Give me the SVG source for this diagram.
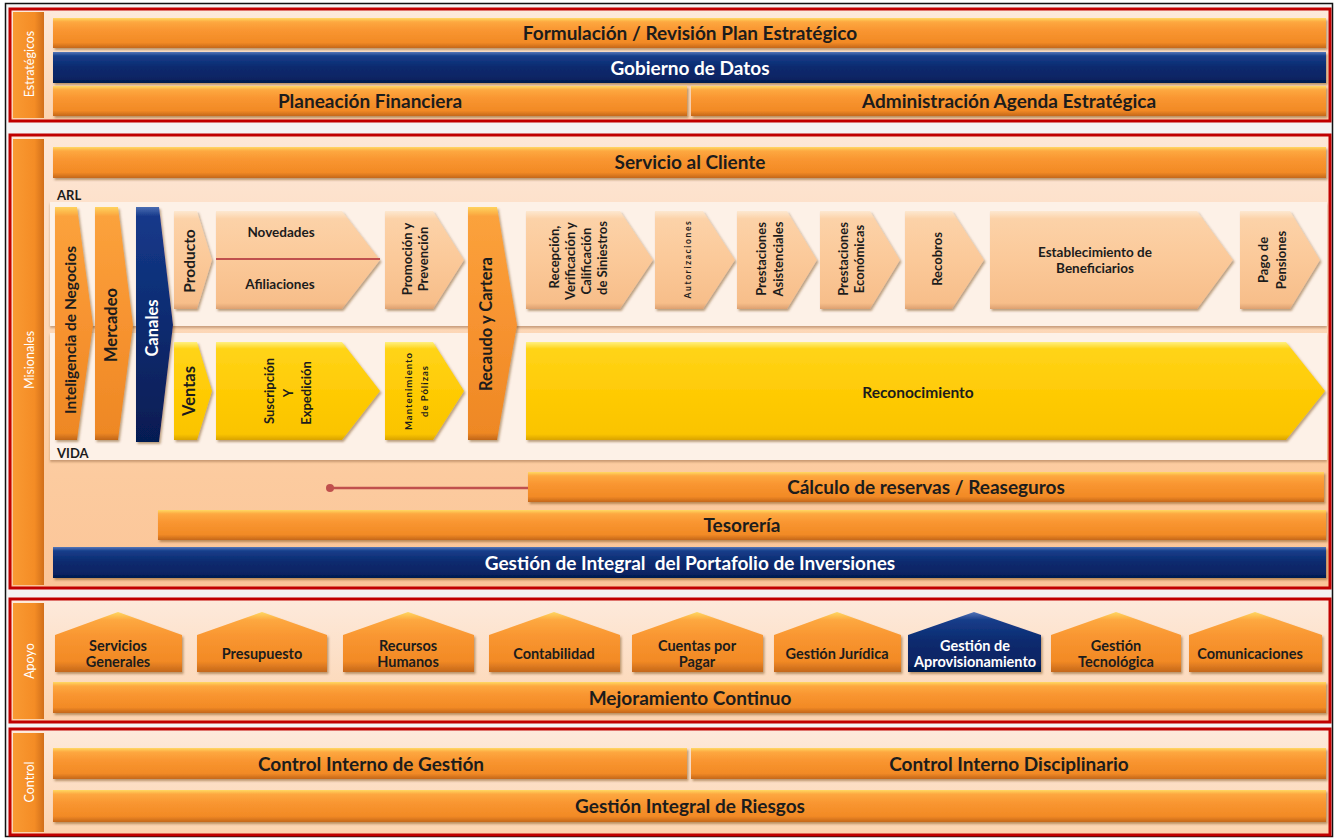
<svg xmlns="http://www.w3.org/2000/svg" width="1337" height="839" viewBox="0 0 1337 839">
<defs>
  <linearGradient id="gOrange" x1="0" y1="0" x2="0" y2="1">
    <stop offset="0" stop-color="#ffd862"/>
    <stop offset="0.13" stop-color="#fda840"/>
    <stop offset="0.4" stop-color="#f99631"/>
    <stop offset="0.82" stop-color="#f28a25"/>
    <stop offset="1" stop-color="#c4671a"/>
  </linearGradient>
  <linearGradient id="gNavy" x1="0" y1="0" x2="0" y2="1">
    <stop offset="0" stop-color="#5676b8"/>
    <stop offset="0.13" stop-color="#163d8a"/>
    <stop offset="0.5" stop-color="#0b2a6e"/>
    <stop offset="0.85" stop-color="#082463"/>
    <stop offset="1" stop-color="#041a4c"/>
  </linearGradient>
  <linearGradient id="gOrangeTall" x1="0" y1="0" x2="0" y2="1">
    <stop offset="0" stop-color="#ffd35e"/>
    <stop offset="0.04" stop-color="#fba23c"/>
    <stop offset="0.5" stop-color="#f79330"/>
    <stop offset="0.97" stop-color="#ee8824"/>
    <stop offset="1" stop-color="#c06518"/>
  </linearGradient>
  <linearGradient id="gNavyTall" x1="0" y1="0" x2="0" y2="1">
    <stop offset="0" stop-color="#4a6db2"/>
    <stop offset="0.04" stop-color="#15398a"/>
    <stop offset="0.5" stop-color="#0c2b70"/>
    <stop offset="1" stop-color="#061c52"/>
  </linearGradient>
  <linearGradient id="gPeach" x1="0" y1="0" x2="0" y2="1">
    <stop offset="0" stop-color="#fde8d0"/>
    <stop offset="0.08" stop-color="#fcd2a8"/>
    <stop offset="0.5" stop-color="#fbc999"/>
    <stop offset="0.94" stop-color="#f7be8a"/>
    <stop offset="1" stop-color="#dca070"/>
  </linearGradient>
  <linearGradient id="gYellow" x1="0" y1="0" x2="0" y2="1">
    <stop offset="0" stop-color="#fff080"/>
    <stop offset="0.07" stop-color="#ffd418"/>
    <stop offset="0.5" stop-color="#ffcb06"/>
    <stop offset="0.94" stop-color="#fac400"/>
    <stop offset="1" stop-color="#d9a300"/>
  </linearGradient>
  <linearGradient id="gLabel" x1="0" y1="0" x2="1" y2="0">
    <stop offset="0" stop-color="#f99a33"/>
    <stop offset="0.7" stop-color="#f48c25"/>
    <stop offset="1" stop-color="#d16f1a"/>
  </linearGradient>
  <linearGradient id="gSecLight" x1="0" y1="0" x2="0" y2="1">
    <stop offset="0" stop-color="#fdeadc"/>
    <stop offset="1" stop-color="#fcd3ae"/>
  </linearGradient>
  <linearGradient id="gSecMis" x1="0" y1="0" x2="0" y2="1">
    <stop offset="0" stop-color="#fde8d8"/>
    <stop offset="0.15" stop-color="#fde1cb"/>
    <stop offset="0.75" stop-color="#fccb9f"/>
    <stop offset="1" stop-color="#fbc598"/>
  </linearGradient>
  <filter id="sh" x="-10%" y="-20%" width="120%" height="150%">
    <feDropShadow dx="1.5" dy="2" stdDeviation="1.2" flood-color="#6b3a10" flood-opacity="0.45"/>
  </filter>
  <filter id="shPanel" x="-5%" y="-10%" width="110%" height="130%">
    <feDropShadow dx="0" dy="2" stdDeviation="1.2" flood-color="#8a5a30" flood-opacity="0.45"/>
  </filter>
  <style>
    text { font-family: Lato, "Open Sans", "Liberation Sans", sans-serif; font-weight: bold; fill: #1c1c1c; text-anchor: middle; dominant-baseline: central; }
    .bar { fill: url(#gOrange); filter: url(#sh); }
    .navy { fill: url(#gNavy); filter: url(#sh); }
    .tallO { fill: url(#gOrangeTall); filter: url(#sh); }
    .tallN { fill: url(#gNavyTall); filter: url(#sh); }
    .peach { fill: url(#gPeach); filter: url(#sh); }
    .yellow { fill: url(#gYellow); filter: url(#sh); }
    .house { fill: url(#gOrange); filter: url(#sh); }
    .houseN { fill: url(#gNavy); filter: url(#sh); }
    .sec { stroke: #c00000; stroke-width: 3; }
    .lbl { fill: url(#gLabel); }
    .lblT { font-weight: normal; font-size: 12.5px; fill: #ffffff; }
    .big { font-size: 19px; }
    .w { fill: #ffffff; }
    .v16 { font-size: 16.5px; }
    .v15 { font-size: 15.5px; }
    .s15 { font-size: 15.5px; }
    .s13 { font-size: 13.5px; }
    .s12 { font-size: 13px; }
    .tiny { font-size: 9.5px; letter-spacing: 1px; }
    .tiny2 { font-size: 8.5px; letter-spacing: 1.6px; }
    .h { font-size: 14.5px; }
    .tag { font-size: 13px; text-anchor: start; }
    .panel { fill: #fdf1e7; filter: url(#shPanel); }
  </style>
</defs>

<!-- page -->
<rect x="0" y="0" width="1337" height="839" fill="#ffffff"/>
<rect x="5.5" y="3.5" width="1327" height="833" fill="#f4f4f4" stroke="#111111" stroke-width="1.5"/>

<!-- ===== Estratégicos ===== -->
<g id="sec-estrategicos">
  <rect class="sec" x="10" y="9" width="1320" height="112" fill="url(#gSecLight)"/>
  <rect class="lbl" x="13" y="12" width="31" height="106"/>
  <text class="lblT" transform="translate(29,64) rotate(-90)">Estratégicos</text>
</g>
<g id="formulacion">
  <rect class="bar" x="53" y="18" width="1273" height="30"/>
  <text class="big" x="690" y="32">Formulación / Revisión Plan Estratégico</text>
</g>
<g id="gobierno-datos">
  <rect class="navy" x="53" y="52" width="1273" height="31"/>
  <text class="big w" x="690" y="67">Gobierno de Datos</text>
</g>
<g id="planeacion">
  <rect class="bar" x="53" y="86" width="634" height="30"/>
  <text class="big" x="370" y="100">Planeación Financiera</text>
</g>
<g id="agenda">
  <rect class="bar" x="691" y="86" width="635" height="30"/>
  <text class="big" x="1009" y="100">Administración Agenda Estratégica</text>
</g>

<!-- ===== Misionales ===== -->
<g id="sec-misionales">
  <rect class="sec" x="10" y="135" width="1320" height="453" fill="url(#gSecMis)"/>
  <rect class="lbl" x="13" y="139" width="31" height="446"/>
  <text class="lblT" transform="translate(29,360) rotate(-90)">Misionales</text>
</g>
<g id="servicio-cliente">
  <rect class="bar" x="53" y="147" width="1273" height="31"/>
  <text class="big" x="690" y="161">Servicio al Cliente</text>
</g>

<g id="panel-arl">
  <rect class="panel" x="50" y="202" width="1277" height="124"/>
  <text class="tag" x="57" y="195">ARL</text>
</g>
<g id="panel-vida">
  <rect class="panel" x="50" y="333" width="1277" height="127"/>
  <text class="tag" x="57" y="453">VIDA</text>
</g>

<g id="inteligencia">
  <polygon class="tallO" points="55,207 77,207 93,325 77,440 55,440"/>
  <text class="v15" transform="translate(70,330) rotate(-90)">Inteligencia de Negocios</text>
</g>
<g id="mercadeo">
  <polygon class="tallO" points="95,207 118,207 133,325 118,440 95,440"/>
  <text class="v16" transform="translate(111,325) rotate(-90)">Mercadeo</text>
</g>
<g id="canales">
  <polygon class="tallN" points="136,207 159,207 173,325 159,442 136,442"/>
  <text class="v16 w" transform="translate(152,328) rotate(-90)">Canales</text>
</g>

<g id="producto">
  <polygon class="peach" points="174,211 197,211 212,260 197,309 174,309"/>
  <text class="s15" transform="translate(189,261) rotate(-90)">Producto</text>
</g>
<g id="novedades-afiliaciones">
  <polygon class="peach" points="216,211 342,211 380,260 342,309 216,309"/>
  <text class="s13" x="281" y="232">Novedades</text>
  <text class="s13" x="280" y="284">Afiliaciones</text>
</g>
<g id="promocion">
  <polygon class="peach" points="385,211 433,211 464,260 433,309 385,309"/>
  <text class="s12" transform="translate(407,259) rotate(-90)">Promoción y</text>
  <text class="s12" transform="translate(423,259) rotate(-90)">Prevención</text>
</g>

<g id="ventas">
  <polygon class="yellow" points="174,342 197,342 212,391 197,440 174,440"/>
  <text class="v16" transform="translate(189,391) rotate(-90)">Ventas</text>
</g>
<g id="suscripcion">
  <polygon class="yellow" points="216,342 342,342 380,391 342,440 216,440"/>
  <text class="s12" transform="translate(269,391) rotate(-90)">Suscripción</text>
  <text class="s12" transform="translate(288,393) rotate(-90)">Y</text>
  <text class="s12" transform="translate(306,393) rotate(-90)">Expedición</text>
</g>
<g id="mantenimiento">
  <polygon class="yellow" points="385,342 433,342 464,391 433,440 385,440"/>
  <text class="tiny" transform="translate(408,391) rotate(-90)">Mantenimiento</text>
  <text class="tiny" transform="translate(424,391) rotate(-90)">de Pólizas</text>
</g>

<g id="recaudo">
  <polygon class="tallO" points="468,207 497,207 517,325 497,440 468,440"/>
  <text class="v16" transform="translate(486,324) rotate(-90)">Recaudo y Cartera</text>
</g>

<g id="recepcion">
  <polygon class="peach" points="526,211 620,211 653,260 620,309 526,309"/>
  <text class="s12" transform="translate(554,257) rotate(-90)">Recepción,</text>
  <text class="s12" transform="translate(570,261) rotate(-90)">Verificación y</text>
  <text class="s12" transform="translate(586,261) rotate(-90)">Calificación</text>
  <text class="s12" transform="translate(602,258) rotate(-90)">de Siniestros</text>
</g>
<g id="autorizaciones">
  <polygon class="peach" points="655,211 703,211 735,260 703,309 655,309"/>
  <text class="tiny2" transform="translate(688,259) rotate(-90)">Autorizaciones</text>
</g>
<g id="asistenciales">
  <polygon class="peach" points="737,211 787,211 817,260 787,309 737,309"/>
  <text class="s12" transform="translate(761,259) rotate(-90)">Prestaciones</text>
  <text class="s12" transform="translate(778,259) rotate(-90)">Asistenciales</text>
</g>
<g id="economicas">
  <polygon class="peach" points="820,211 870,211 900,260 870,309 820,309"/>
  <text class="s12" transform="translate(843,259) rotate(-90)">Prestaciones</text>
  <text class="s12" transform="translate(859,259) rotate(-90)">Económicas</text>
</g>
<g id="recobros">
  <polygon class="peach" points="905,211 952,211 984,260 952,309 905,309"/>
  <text class="s12" transform="translate(937,259) rotate(-90)">Recobros</text>
</g>
<g id="beneficiarios">
  <polygon class="peach" points="990,211 1197,211 1233,260 1197,309 990,309"/>
  <text class="s13" x="1095" y="252">Establecimiento de</text>
  <text class="s13" x="1095" y="268">Beneficiarios</text>
</g>
<g id="pensiones">
  <polygon class="peach" points="1240,211 1290,211 1320,260 1290,309 1240,309"/>
  <text class="s12" transform="translate(1263,260) rotate(-90)">Pago de</text>
  <text class="s12" transform="translate(1281,260) rotate(-90)">Pensiones</text>
</g>

<g id="reconocimiento">
  <polygon class="yellow" points="526,342 1286,342 1325,391 1286,440 526,440"/>
  <text class="s15" x="918" y="392">Reconocimiento</text>
</g>

<g id="calculo-reservas">
  <rect class="bar" x="528" y="472" width="796" height="30"/>
  <text class="big" x="926" y="486">Cálculo de reservas / Reaseguros</text>
</g>
<g id="tesoreria">
  <rect class="bar" x="158" y="510" width="1168" height="30"/>
  <text class="big" x="742" y="524">Tesorería</text>
</g>
<g id="portafolio">
  <rect class="navy" x="53" y="547" width="1273" height="31"/>
  <text class="big w" x="690" y="562" xml:space="preserve">Gestión de Integral  del Portafolio de Inversiones</text>
</g>

<!-- ===== Apoyo ===== -->
<g id="sec-apoyo">
  <rect class="sec" x="10" y="599" width="1320" height="123" fill="url(#gSecLight)"/>
  <rect class="lbl" x="13" y="603" width="31" height="116"/>
  <text class="lblT" transform="translate(29,661) rotate(-90)">Apoyo</text>
</g>
<g id="servicios-generales">
  <polygon class="house" points="55,635 118,612 182,635 182,672 55,672"/>
  <text class="h" x="118" y="645">Servicios</text>
  <text class="h" x="118" y="661">Generales</text>
</g>
<g id="presupuesto">
  <polygon class="house" points="197,635 262,612 327,635 327,672 197,672"/>
  <text class="h" x="262" y="653">Presupuesto</text>
</g>
<g id="recursos-humanos">
  <polygon class="house" points="343,635 408,612 474,635 474,672 343,672"/>
  <text class="h" x="408" y="645">Recursos</text>
  <text class="h" x="408" y="661">Humanos</text>
</g>
<g id="contabilidad">
  <polygon class="house" points="489,635 554,612 620,635 620,672 489,672"/>
  <text class="h" x="554" y="653">Contabilidad</text>
</g>
<g id="cuentas-pagar">
  <polygon class="house" points="632,635 697,612 763,635 763,672 632,672"/>
  <text class="h" x="697" y="645">Cuentas por</text>
  <text class="h" x="697" y="661">Pagar</text>
</g>
<g id="gestion-juridica">
  <polygon class="house" points="774,635 837,612 901,635 901,672 774,672"/>
  <text class="h" x="837" y="653">Gestión Jurídica</text>
</g>
<g id="aprovisionamiento">
  <polygon class="houseN" points="908,635 974,612 1041,635 1041,672 908,672"/>
  <text class="h w" x="975" y="645">Gestión de</text>
  <text class="h w" x="975" y="661">Aprovisionamiento</text>
</g>
<g id="gestion-tecnologica">
  <polygon class="house" points="1051,635 1116,612 1181,635 1181,672 1051,672"/>
  <text class="h" x="1116" y="645">Gestión</text>
  <text class="h" x="1116" y="661">Tecnológica</text>
</g>
<g id="comunicaciones">
  <polygon class="house" points="1189,635 1255,612 1322,635 1322,672 1189,672"/>
  <text class="h" x="1250" y="653">Comunicaciones</text>
</g>
<g id="mejoramiento">
  <rect class="bar" x="53" y="682" width="1273" height="31"/>
  <text class="big" x="690" y="697">Mejoramiento Continuo</text>
</g>

<!-- ===== Control ===== -->
<g id="sec-control">
  <rect class="sec" x="10" y="729" width="1320" height="106" fill="url(#gSecLight)"/>
  <rect class="lbl" x="13" y="733" width="31" height="99"/>
  <text class="lblT" transform="translate(29,782) rotate(-90)">Control</text>
</g>
<g id="control-gestion">
  <rect class="bar" x="53" y="748" width="634" height="31"/>
  <text class="big" x="371" y="763">Control Interno de Gestión</text>
</g>
<g id="control-disciplinario">
  <rect class="bar" x="691" y="748" width="635" height="31"/>
  <text class="big" x="1009" y="763">Control Interno Disciplinario</text>
</g>
<g id="riesgos">
  <rect class="bar" x="53" y="790" width="1273" height="32"/>
  <text class="big" x="690" y="805">Gestión Integral de Riesgos</text>
</g>

<!-- connectors -->
<g id="connectors" stroke="#c0504d" fill="#c0504d">
  <line x1="216" y1="259" x2="380" y2="259" stroke-width="2"/>
  <line x1="330" y1="488" x2="528" y2="488" stroke-width="2.5"/>
  <circle cx="330" cy="488" r="4" stroke="none"/>
</g>
</svg>
